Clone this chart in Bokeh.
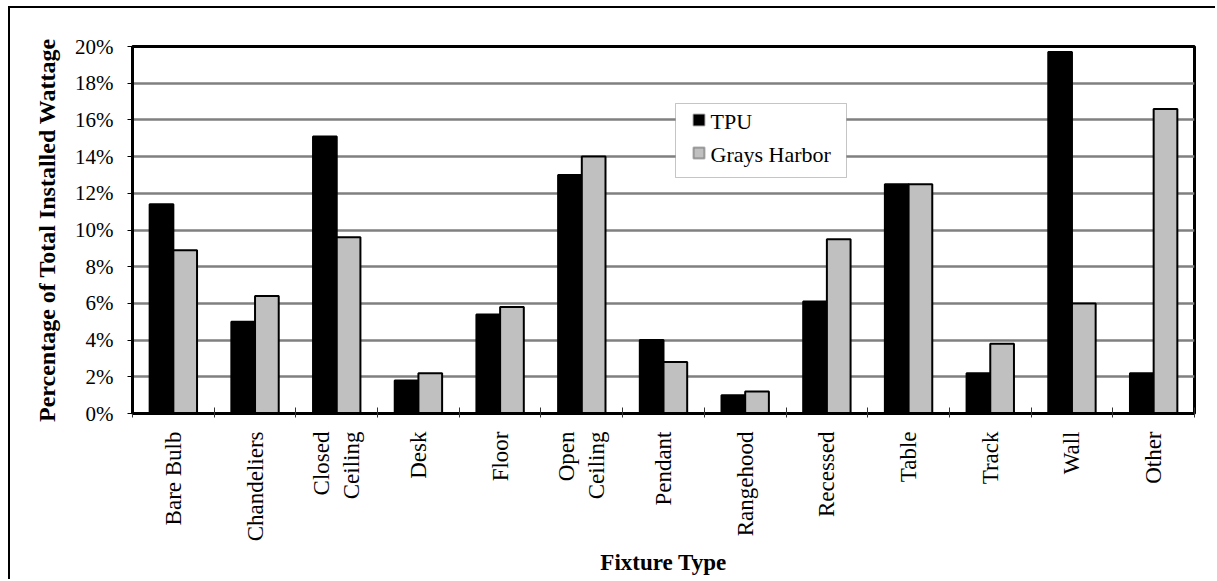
import math
from bokeh.plotting import figure
from bokeh.models import ColumnDataSource, FixedTicker, Range1d, BoxAnnotation, Label
from bokeh.transform import dodge
from bokeh.embed import file_html
from bokeh.resources import INLINE

categories = ["Bare Bulb", "Chandeliers", "Closed\nCeiling", "Desk", "Floor", "Open\nCeiling",
              "Pendant", "Rangehood", "Recessed", "Table", "Track", "Wall", "Other"]
tpu = [11.4, 5.0, 15.1, 1.8, 5.4, 13.0, 4.0, 1.0, 6.1, 12.5, 2.2, 19.7, 2.2]
grays_harbor = [8.9, 6.4, 9.6, 2.2, 5.8, 14.0, 2.8, 1.2, 9.5, 12.5, 3.8, 6.0, 16.6]
y_ticks = [0, 2, 4, 6, 8, 10, 12, 14, 16, 18, 20]
series_names = ["TPU", "Grays Harbor"]

n = len(categories)
centers = [2 * i + 1 for i in range(n)]
bounds = [2 * i for i in range(n + 1)]
src = ColumnDataSource(dict(x=centers, tpu=tpu, gh=grays_harbor))

FONT = "Liberation Serif"
FILLS = ["black", "#C0C0C0"]

p = figure(width=1207, height=573, output_backend="svg", toolbar_location=None,
           x_range=Range1d(0, 2 * n), y_range=Range1d(0, 20),
           min_border_left=122, min_border_right=23, min_border_top=38, min_border_bottom=168)
p.styles = {"border-top": "2px solid black", "border-left": "2px solid black",
            "margin-left": "8px", "margin-top": "6px"}
p.background_fill_color = "white"
p.border_fill_color = "white"
p.outline_line_color = "black"
p.outline_line_width = 3

bw = 0.58
r1 = p.vbar(x=dodge("x", -bw / 2), top="tpu", width=bw, source=src,
            fill_color=FILLS[0], line_color="black", line_width=2)
r2 = p.vbar(x=dodge("x", bw / 2), top="gh", width=bw, source=src,
            fill_color=FILLS[1], line_color="black", line_width=2)

# grid
p.xgrid.visible = False
p.ygrid.ticker = FixedTicker(ticks=y_ticks)
p.ygrid.grid_line_color = "#808080"
p.ygrid.grid_line_width = 2.5

# y axis
ya = p.yaxis[0]
ya.ticker = FixedTicker(ticks=y_ticks)
ya.major_label_overrides = {v: f"{v}%" for v in y_ticks}
ya.axis_line_width = 3
ya.axis_line_color = "black"
ya.major_tick_out = 5
ya.major_tick_in = 0
ya.major_tick_line_color = "black"
ya.minor_tick_line_color = None
ya.major_label_standoff = 14
ya.major_label_text_font = FONT
ya.major_label_text_font_size = "21px"
ya.major_label_text_color = "black"
ya.axis_label = "Percentage of Total Installed Wattage"
ya.axis_label_text_font = FONT
ya.axis_label_text_font_style = "bold"
ya.axis_label_text_font_size = "24px"
ya.axis_label_text_color = "black"
ya.axis_label_standoff = 12

# x axis
xa = p.xaxis[0]
xa.ticker = FixedTicker(ticks=centers, minor_ticks=bounds)
xa.major_label_overrides = {c: lab for c, lab in zip(centers, categories)}
xa.major_label_orientation = math.pi / 2
xa.axis_line_width = 3
xa.axis_line_color = "black"
xa.major_tick_line_color = None
xa.major_tick_out = 0
xa.major_tick_in = 0
xa.minor_tick_line_color = "#333333"
xa.minor_tick_out = 4
xa.minor_tick_in = 6
xa.major_label_standoff = 14
xa.major_label_text_font = FONT
xa.major_label_text_font_size = "23px"
xa.major_label_text_color = "black"
xa.axis_label = "Fixture Type"
xa.axis_label_text_font = FONT
xa.axis_label_text_font_style = "bold"
xa.axis_label_text_font_size = "23px"
xa.axis_label_text_color = "black"
xa.axis_label_standoff = 6

# legend (screen units, relative to the plot frame's lower-left corner)
LEG_L, LEG_R, LEG_B, LEG_T = 543, 714, 236, 310
p.add_layout(BoxAnnotation(left=LEG_L, right=LEG_R, bottom=LEG_B, top=LEG_T,
                           left_units="screen", right_units="screen",
                           bottom_units="screen", top_units="screen",
                           fill_color="white", fill_alpha=1,
                           line_color="#404040", line_width=1, level="annotation"))
row_step = 33
for k, (name, fill) in enumerate(zip(series_names, FILLS)):
    gy = LEG_T - 11 - k * row_step
    p.add_layout(BoxAnnotation(left=LEG_L + 18, right=LEG_L + 29, bottom=gy - 11, top=gy,
                               left_units="screen", right_units="screen",
                               bottom_units="screen", top_units="screen",
                               fill_color=fill, fill_alpha=1,
                               line_color="black", line_width=2, level="annotation"))
    p.add_layout(Label(x=LEG_L + 35, y=gy - 7, x_units="screen", y_units="screen",
                       text=name, text_font=FONT, text_font_size="22px",
                       text_color="black", text_baseline="alphabetic", text_align="left"))

open("out.html", "w").write(file_html(p, INLINE))
